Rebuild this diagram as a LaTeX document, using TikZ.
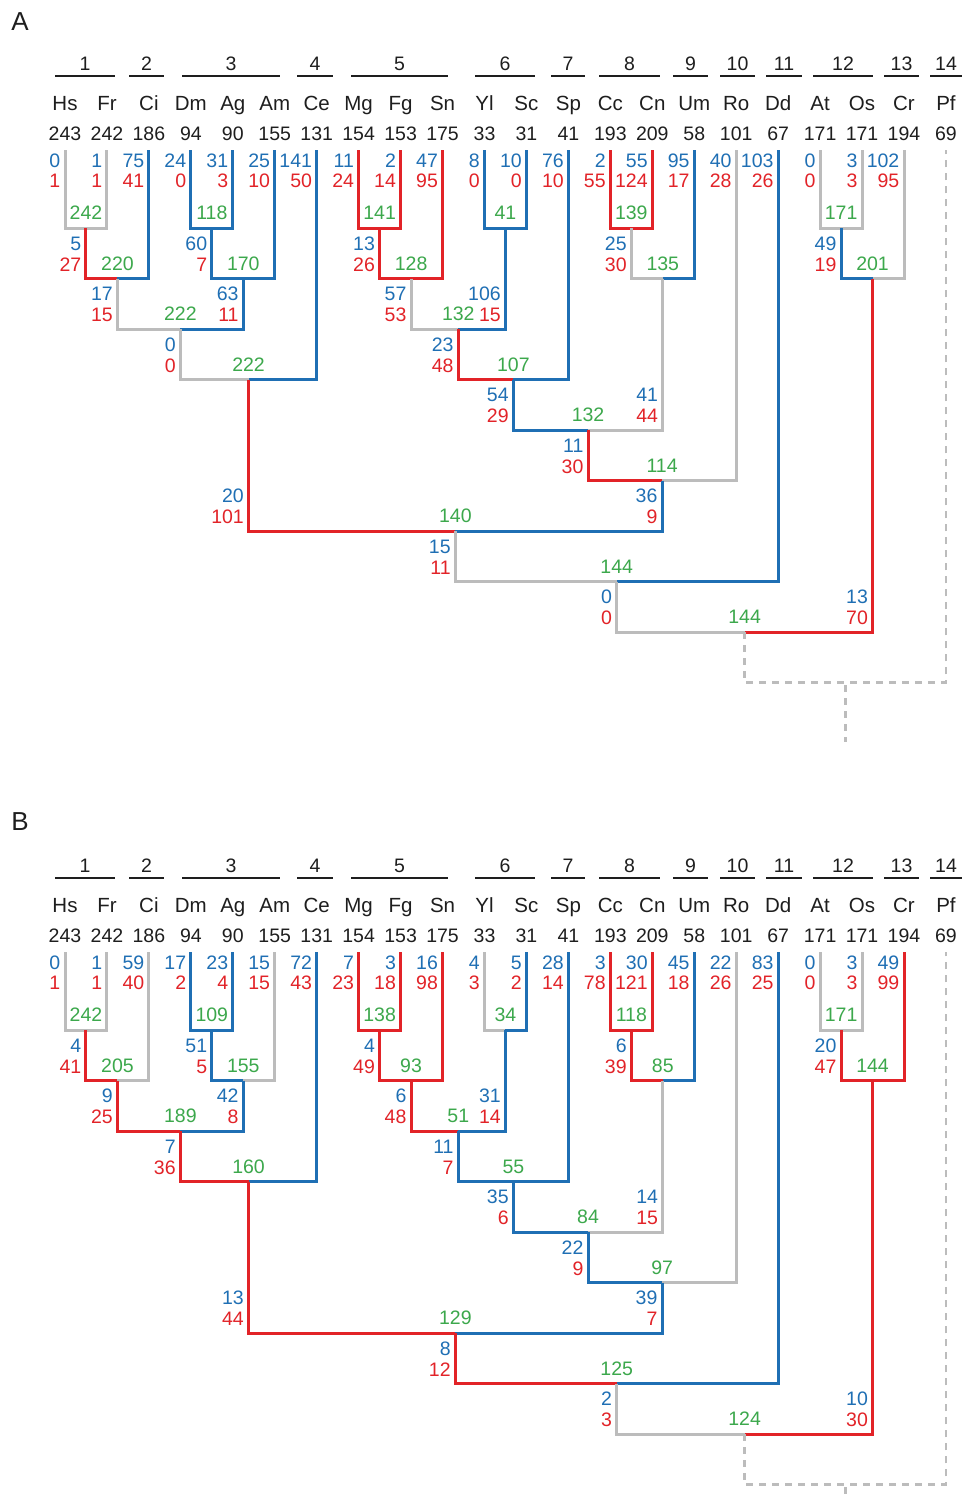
\documentclass[tikz,border=0pt]{standalone}
\usepackage{fontspec}
\setmainfont{Liberation Sans}
\definecolor{cblue}{RGB}{31,111,180}
\definecolor{cred}{RGB}{226,35,40}
\definecolor{cgray}{RGB}{188,188,188}
\definecolor{cgreen}{RGB}{60,168,76}
\definecolor{ctxt}{RGB}{30,30,30}
\tikzset{
  brl/.style={line width=3pt},
  lab/.style={inner sep=0pt, font=\fontsize{19.5}{20}\selectfont},
  nm/.style={inner sep=0pt, text=ctxt, font=\fontsize{20.5}{21}\selectfont},
  ct/.style={inner sep=0pt, text=ctxt, font=\fontsize{19.5}{20}\selectfont},
  grpl/.style={line width=1.6pt, ctxt},
  dsh/.style={cgray, line width=2.5pt, dash pattern=on 7pt off 6pt},
  ttl/.style={inner sep=0pt, text=ctxt, font=\fontsize{26}{26}\selectfont}
}
\newcommand{\leafnode}[6]{%
  \coordinate (#1) at (#2,150);
  \node[lab,text=cblue,anchor=east] (#1-b) at ({#2-4.5},161) {#3};
  \node[lab,text=cred,anchor=east] (#1-r) at ({#2-4.5},181) {#4};
  \node[nm,anchor=base] (#1-nm) at (#2,110) {#5};
  \node[ct,anchor=base] (#1-ct) at (#2,140) {#6};
}
\newcommand{\innode}[7]{%
  \coordinate (#1) at (#2,#3);
  \node[lab,text=cgreen] (#1-g) at (#2,{#3-15}) {#5};
  \node[lab,text=cblue,anchor=east] (#1-b) at ({#2-4.5},{#4-35}) {#6};
  \node[lab,text=cred,anchor=east] (#1-r) at ({#2-4.5},{#4-14}) {#7};
}
\newcommand{\edg}[3]{\draw[brl,#3] (#1) |- (#2);}
\newcommand{\grp}[4]{%
  \coordinate (#1-a) at (#2,76);
  \coordinate (#1-b) at (#3,76);
  \draw[grpl] (#1-a) -- (#1-b);
  \node[ct,anchor=base] (#1) at ({(#2+#3)/2},70) {#4};
}
\newcommand{\hdr}[1]{%
  \grp{#1-g1}{55}{115}{1}
  \grp{#1-g2}{129}{164}{2}
  \grp{#1-g3}{182}{280}{3}
  \grp{#1-g4}{297}{333}{4}
  \grp{#1-g5}{351}{448}{5}
  \grp{#1-g6}{475}{535}{6}
  \grp{#1-g7}{551}{585}{7}
  \grp{#1-g8}{599}{660}{8}
  \grp{#1-g9}{673}{708}{9}
  \grp{#1-g10}{720}{755}{10}
  \grp{#1-g11}{766}{802}{11}
  \grp{#1-g12}{813}{873}{12}
  \grp{#1-g13}{884}{919}{13}
  \grp{#1-g14}{930}{962}{14}
  \coordinate (#1-Pf) at (945.95,150);
  \node[nm,anchor=base] (#1-Pf-nm) at (945.95,110) {Pf};
  \node[ct,anchor=base] (#1-Pf-ct) at (945.95,140) {69};
  \coordinate (#1-r) at (744.64,682.5);
  \coordinate (#1-Pfb) at (945.95,682.5);
  \coordinate (#1-root) at (845.3,685);
  \coordinate (#1-rootend) at (845.3,742);
  \draw[dsh] (#1-n20) -- (#1-r) -- (#1-Pfb) -- (#1-Pf);
  \draw[dsh] (#1-root) -- (#1-rootend);
}
\begin{document}
\begin{tikzpicture}[x=1pt,y=-1pt]
\useasboundingbox (0,0) rectangle (962,1497);
\fill[white] (0,0) rectangle (962,1497);
% ================= Panel A =================
\begin{scope}
\node[ttl] (A-title) at (20,21.5) {A};
\leafnode{A-Hs}{65}{0}{1}{Hs}{243}
\leafnode{A-Fr}{106.95}{1}{1}{Fr}{242}
\leafnode{A-Ci}{148.9}{75}{41}{Ci}{186}
\leafnode{A-Dm}{190.85}{24}{0}{Dm}{94}
\leafnode{A-Ag}{232.8}{31}{3}{Ag}{90}
\leafnode{A-Am}{274.75}{25}{10}{Am}{155}
\leafnode{A-Ce}{316.7}{141}{50}{Ce}{131}
\leafnode{A-Mg}{358.65}{11}{24}{Mg}{154}
\leafnode{A-Fg}{400.6}{2}{14}{Fg}{153}
\leafnode{A-Sn}{442.55}{47}{95}{Sn}{175}
\leafnode{A-Yl}{484.5}{8}{0}{Yl}{33}
\leafnode{A-Sc}{526.45}{10}{0}{Sc}{31}
\leafnode{A-Sp}{568.4}{76}{10}{Sp}{41}
\leafnode{A-Cc}{610.35}{2}{55}{Cc}{193}
\leafnode{A-Cn}{652.3}{55}{124}{Cn}{209}
\leafnode{A-Um}{694.25}{95}{17}{Um}{58}
\leafnode{A-Ro}{736.2}{40}{28}{Ro}{101}
\leafnode{A-Dd}{778.15}{103}{26}{Dd}{67}
\leafnode{A-At}{820.1}{0}{0}{At}{171}
\leafnode{A-Os}{862.05}{3}{3}{Os}{171}
\leafnode{A-Cr}{904}{102}{95}{Cr}{194}
\innode{A-n1}{85.975}{228}{278.5}{242}{5}{27}
\innode{A-n2}{117.44}{278.5}{329}{220}{17}{15}
\innode{A-n3}{211.825}{228}{278.5}{118}{60}{7}
\innode{A-n4}{243.29}{278.5}{329}{170}{63}{11}
\innode{A-n5}{180.36}{329}{379.5}{222}{0}{0}
\innode{A-n6}{248.53}{379.5}{531}{222}{20}{101}
\innode{A-n7}{379.625}{228}{278.5}{141}{13}{26}
\innode{A-n8}{411.09}{278.5}{329}{128}{57}{53}
\innode{A-n9}{505.475}{228}{329}{41}{106}{15}
\innode{A-n10}{458.28}{329}{379.5}{132}{23}{48}
\innode{A-n11}{513.34}{379.5}{430}{107}{54}{29}
\innode{A-n12}{631.325}{228}{278.5}{139}{25}{30}
\innode{A-n13}{662.79}{278.5}{430}{135}{41}{44}
\innode{A-n14}{588.06}{430}{480.5}{132}{11}{30}
\innode{A-n15}{662.13}{480.5}{531}{114}{36}{9}
\innode{A-n16}{455.33}{531}{581.5}{140}{15}{11}
\innode{A-n17}{616.74}{581.5}{632}{144}{0}{0}
\innode{A-n18}{841.075}{228}{278.5}{171}{49}{19}
\innode{A-n19}{872.54}{278.5}{632}{201}{13}{70}
\coordinate (A-n20) at (744.64,632);
\node[lab,text=cgreen] (A-n20-g) at (744.64,617) {144};
\edg{A-Hs}{A-n1}{cgray} \edg{A-Fr}{A-n1}{cgray}
\edg{A-n1}{A-n2}{cred} \edg{A-Ci}{A-n2}{cblue}
\edg{A-Dm}{A-n3}{cblue} \edg{A-Ag}{A-n3}{cblue}
\edg{A-n3}{A-n4}{cblue} \edg{A-Am}{A-n4}{cblue}
\edg{A-n2}{A-n5}{cgray} \edg{A-n4}{A-n5}{cblue}
\edg{A-n5}{A-n6}{cgray} \edg{A-Ce}{A-n6}{cblue}
\edg{A-Mg}{A-n7}{cred} \edg{A-Fg}{A-n7}{cred}
\edg{A-n7}{A-n8}{cred} \edg{A-Sn}{A-n8}{cred}
\edg{A-Yl}{A-n9}{cblue} \edg{A-Sc}{A-n9}{cblue}
\edg{A-n8}{A-n10}{cgray} \edg{A-n9}{A-n10}{cblue}
\edg{A-n10}{A-n11}{cred} \edg{A-Sp}{A-n11}{cblue}
\edg{A-Cc}{A-n12}{cred} \edg{A-Cn}{A-n12}{cred}
\edg{A-n12}{A-n13}{cgray} \edg{A-Um}{A-n13}{cblue}
\edg{A-n11}{A-n14}{cblue} \edg{A-n13}{A-n14}{cgray}
\edg{A-n14}{A-n15}{cred} \edg{A-Ro}{A-n15}{cgray}
\edg{A-n6}{A-n16}{cred} \edg{A-n15}{A-n16}{cblue}
\edg{A-n16}{A-n17}{cgray} \edg{A-Dd}{A-n17}{cblue}
\edg{A-At}{A-n18}{cgray} \edg{A-Os}{A-n18}{cgray}
\edg{A-n18}{A-n19}{cblue} \edg{A-Cr}{A-n19}{cgray}
\edg{A-n17}{A-n20}{cgray} \edg{A-n19}{A-n20}{cred}
\hdr{A}
\end{scope}
% ================= Panel B =================
\begin{scope}[yshift=-802pt]
\node[ttl] (B-title) at (20,20) {B};
\leafnode{B-Hs}{65}{0}{1}{Hs}{243}
\leafnode{B-Fr}{106.95}{1}{1}{Fr}{242}
\leafnode{B-Ci}{148.9}{59}{40}{Ci}{186}
\leafnode{B-Dm}{190.85}{17}{2}{Dm}{94}
\leafnode{B-Ag}{232.8}{23}{4}{Ag}{90}
\leafnode{B-Am}{274.75}{15}{15}{Am}{155}
\leafnode{B-Ce}{316.7}{72}{43}{Ce}{131}
\leafnode{B-Mg}{358.65}{7}{23}{Mg}{154}
\leafnode{B-Fg}{400.6}{3}{18}{Fg}{153}
\leafnode{B-Sn}{442.55}{16}{98}{Sn}{175}
\leafnode{B-Yl}{484.5}{4}{3}{Yl}{33}
\leafnode{B-Sc}{526.45}{5}{2}{Sc}{31}
\leafnode{B-Sp}{568.4}{28}{14}{Sp}{41}
\leafnode{B-Cc}{610.35}{3}{78}{Cc}{193}
\leafnode{B-Cn}{652.3}{30}{121}{Cn}{209}
\leafnode{B-Um}{694.25}{45}{18}{Um}{58}
\leafnode{B-Ro}{736.2}{22}{26}{Ro}{101}
\leafnode{B-Dd}{778.15}{83}{25}{Dd}{67}
\leafnode{B-At}{820.1}{0}{0}{At}{171}
\leafnode{B-Os}{862.05}{3}{3}{Os}{171}
\leafnode{B-Cr}{904}{49}{99}{Cr}{194}
\innode{B-n1}{85.975}{228}{278.5}{242}{4}{41}
\innode{B-n2}{117.44}{278.5}{329}{205}{9}{25}
\innode{B-n3}{211.825}{228}{278.5}{109}{51}{5}
\innode{B-n4}{243.29}{278.5}{329}{155}{42}{8}
\innode{B-n5}{180.36}{329}{379.5}{189}{7}{36}
\innode{B-n6}{248.53}{379.5}{531}{160}{13}{44}
\innode{B-n7}{379.625}{228}{278.5}{138}{4}{49}
\innode{B-n8}{411.09}{278.5}{329}{93}{6}{48}
\innode{B-n9}{505.475}{228}{329}{34}{31}{14}
\innode{B-n10}{458.28}{329}{379.5}{51}{11}{7}
\innode{B-n11}{513.34}{379.5}{430}{55}{35}{6}
\innode{B-n12}{631.325}{228}{278.5}{118}{6}{39}
\innode{B-n13}{662.79}{278.5}{430}{85}{14}{15}
\innode{B-n14}{588.06}{430}{480.5}{84}{22}{9}
\innode{B-n15}{662.13}{480.5}{531}{97}{39}{7}
\innode{B-n16}{455.33}{531}{581.5}{129}{8}{12}
\innode{B-n17}{616.74}{581.5}{632}{125}{2}{3}
\innode{B-n18}{841.075}{228}{278.5}{171}{20}{47}
\innode{B-n19}{872.54}{278.5}{632}{144}{10}{30}
\coordinate (B-n20) at (744.64,632);
\node[lab,text=cgreen] (B-n20-g) at (744.64,617) {124};
\edg{B-Hs}{B-n1}{cgray} \edg{B-Fr}{B-n1}{cgray}
\edg{B-n1}{B-n2}{cred} \edg{B-Ci}{B-n2}{cgray}
\edg{B-Dm}{B-n3}{cblue} \edg{B-Ag}{B-n3}{cblue}
\edg{B-n3}{B-n4}{cblue} \edg{B-Am}{B-n4}{cgray}
\edg{B-n2}{B-n5}{cred} \edg{B-n4}{B-n5}{cblue}
\edg{B-n5}{B-n6}{cred} \edg{B-Ce}{B-n6}{cblue}
\edg{B-Mg}{B-n7}{cred} \edg{B-Fg}{B-n7}{cred}
\edg{B-n7}{B-n8}{cred} \edg{B-Sn}{B-n8}{cred}
\edg{B-Yl}{B-n9}{cgray} \edg{B-Sc}{B-n9}{cblue}
\edg{B-n8}{B-n10}{cred} \edg{B-n9}{B-n10}{cblue}
\edg{B-n10}{B-n11}{cblue} \edg{B-Sp}{B-n11}{cblue}
\edg{B-Cc}{B-n12}{cred} \edg{B-Cn}{B-n12}{cred}
\edg{B-n12}{B-n13}{cred} \edg{B-Um}{B-n13}{cblue}
\edg{B-n11}{B-n14}{cblue} \edg{B-n13}{B-n14}{cgray}
\edg{B-n14}{B-n15}{cblue} \edg{B-Ro}{B-n15}{cgray}
\edg{B-n6}{B-n16}{cred} \edg{B-n15}{B-n16}{cblue}
\edg{B-n16}{B-n17}{cred} \edg{B-Dd}{B-n17}{cblue}
\edg{B-At}{B-n18}{cgray} \edg{B-Os}{B-n18}{cgray}
\edg{B-n18}{B-n19}{cred} \edg{B-Cr}{B-n19}{cred}
\edg{B-n17}{B-n20}{cgray} \edg{B-n19}{B-n20}{cred}
\hdr{B}
\end{scope}
\end{tikzpicture}
\end{document}
